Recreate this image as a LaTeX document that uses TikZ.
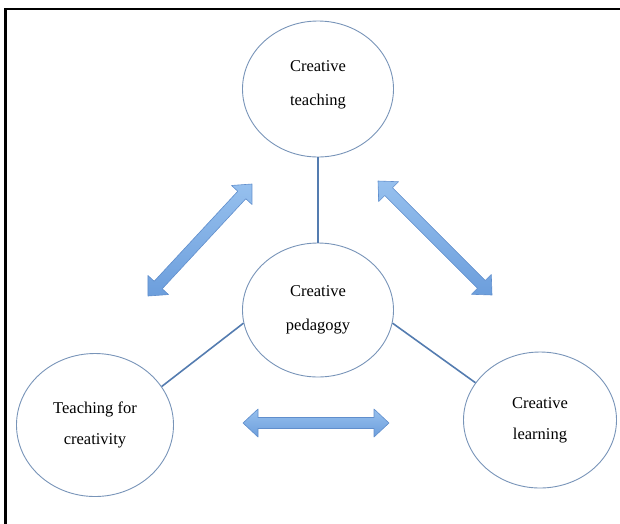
\documentclass[tikz,border=0pt]{standalone}
\usepackage{fontspec}
\setmainfont{Liberation Serif}
\usetikzlibrary{calc,shapes.geometric}
\definecolor{ellline}{RGB}{120,148,184}
\definecolor{connline}{RGB}{84,124,176}
\definecolor{arrlight}{RGB}{150,192,238}
\definecolor{arrdark}{RGB}{108,158,220}
\definecolor{arredge}{RGB}{96,142,204}
\tikzset{
  bubble/.style={ellipse, draw=ellline, line width=0.9pt, inner sep=0pt, align=center,
    font=\fontsize{16.5}{34}\selectfont},
  conn/.style={draw=connline, line width=1.6pt},
  blockarr/.style={draw=arredge, line width=0.6pt, top color=arrlight, bottom color=arrdark, line join=round}
}
\newcommand\dblarrow[2]{%
  \path[blockarr] (#1) -- ($(#1)!15pt!(#2)!14pt!90:(#2)$) -- ($(#1)!15pt!(#2)!5.5pt!90:(#2)$)
    -- ($(#2)!15pt!(#1)!5.5pt!-90:(#1)$) -- ($(#2)!15pt!(#1)!14pt!-90:(#1)$) -- (#2)
    -- ($(#2)!15pt!(#1)!14pt!90:(#1)$) -- ($(#2)!15pt!(#1)!5.5pt!90:(#1)$)
    -- ($(#1)!15pt!(#2)!5.5pt!-90:(#2)$) -- ($(#1)!15pt!(#2)!14pt!-90:(#2)$) -- cycle;}
\begin{document}
\begin{tikzpicture}[x=1pt,y=-1pt]
\useasboundingbox (0,0) rectangle (620,523);
\draw[line width=2.6pt, line cap=rect] (5.3,523) -- (5.3,9) -- (620,9);

\node[bubble, minimum width=151pt, minimum height=136pt] (ct) at (318,89) {Creative\\teaching\\[-22pt]\mbox{}};
\node[bubble, minimum width=151pt, minimum height=134pt] (cp) at (318,310) {Creative\\pedagogy};
\node[bubble, minimum width=157pt, minimum height=143pt] (tfc) at (95,425) {Teaching for\\[-3pt]creativity};
\node[bubble, minimum width=153pt, minimum height=136pt] (cl) at (540,420) {Creative\\[-3pt]learning};

\draw[conn] (ct) -- (cp);
\draw[conn] (cp.190) -- (tfc.30);
\draw[conn] (cp.350) -- (cl.150);

\coordinate (a1s) at (148,296);
\coordinate (a1e) at (252,184);
\coordinate (a2s) at (378,181);
\coordinate (a2e) at (492,295);
\coordinate (a3s) at (243,423);
\coordinate (a3e) at (389,423);
\dblarrow{a1s}{a1e}
\dblarrow{a2s}{a2e}
\dblarrow{a3s}{a3e}
\end{tikzpicture}
\end{document}
